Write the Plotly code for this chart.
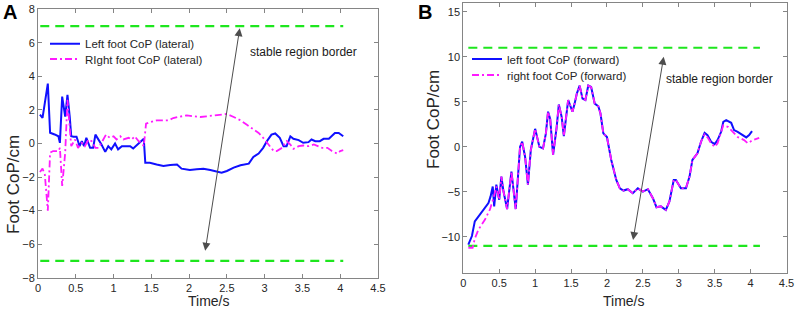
import plotly.graph_objects as go

# ---------------- Data ----------------
# Panel A (lateral)
a_left_t = [0.026, 0.06, 0.13, 0.16, 0.22, 0.27, 0.29, 0.32, 0.36, 0.39, 0.42, 0.44, 0.47, 0.51, 0.55, 0.58,
            0.61, 0.64, 0.69, 0.73, 0.76, 0.80, 0.84, 0.89, 0.93, 0.97, 1.02, 1.06, 1.11, 1.15, 1.22, 1.26,
            1.31, 1.35, 1.40, 1.42, 1.48, 1.57, 1.66, 1.75, 1.84, 1.90, 2.01, 2.10, 2.19, 2.28, 2.37, 2.43,
            2.50, 2.59, 2.68, 2.79, 2.85, 2.92, 2.98, 3.03, 3.09, 3.14, 3.20, 3.25, 3.29, 3.34, 3.38, 3.45,
            3.51, 3.58, 3.62, 3.67, 3.73, 3.78, 3.85, 3.89, 3.93, 3.98, 4.02, 4.04]
a_left_v = [1.72, 1.53, 3.57, 0.64, 0.54, 0.43, 0.04, 2.80, 1.60, 2.90, 1.60, 0.43, 0.40, 0.40, -0.15, 0.14,
            -0.15, 0.34, -0.26, -0.26, 0.53, 0.24, -0.06, -0.50, -0.16, -0.35, 0.00, -0.35, -0.16, -0.16, -0.16, -0.30,
            -0.10, 0.04, 0.28, -1.15, -1.15, -1.25, -1.34, -1.28, -1.25, -1.50, -1.58, -1.54, -1.50, -1.58, -1.70, -1.74,
            -1.64, -1.44, -1.30, -1.20, -0.80, -0.60, -0.26, 0.14, 0.53, 0.60, 0.34, -0.16, -0.16, 0.43, 0.28, 0.20,
            0.04, 0.08, 0.24, 0.14, 0.14, 0.28, 0.28, 0.43, 0.63, 0.63, 0.47, 0.43]

a_right_t = [0.026, 0.06, 0.09, 0.13, 0.16, 0.20, 0.27, 0.29, 0.32, 0.36, 0.39, 0.42, 0.44, 0.49, 0.53, 0.58,
             0.62, 0.67, 0.71, 0.76, 0.80, 0.84, 0.90, 0.95, 1.00, 1.04, 1.09, 1.13, 1.20, 1.24, 1.28, 1.33,
             1.37, 1.40, 1.43, 1.48, 1.57, 1.66, 1.73, 1.79, 1.88, 1.97, 2.06, 2.15, 2.23, 2.32, 2.41, 2.50,
             2.59, 2.68, 2.76, 2.85, 2.92, 2.98, 3.05, 3.12, 3.16, 3.23, 3.29, 3.34, 3.38, 3.45, 3.51, 3.58,
             3.65, 3.71, 3.76, 3.83, 3.89, 3.96, 4.00, 4.04]
a_right_v = [-1.70, -1.50, -1.84, -4.00, -0.55, -0.45, -0.45, -0.26, -2.53, -0.55, 2.60, 1.00, -0.16, 0.24, -0.26, 0.04,
             -0.16, 0.24, 0.14, -0.26, -0.26, 0.04, 0.53, 0.34, 0.43, 0.24, 0.43, 0.24, 0.34, 0.24, 0.43, 0.14,
             0.04, -0.16, 1.18, 1.27, 1.38, 1.38, 1.38, 1.52, 1.62, 1.68, 1.62, 1.58, 1.62, 1.66, 1.72, 1.76,
             1.58, 1.38, 1.13, 0.83, 0.63, 0.34, -0.06, -0.45, -0.45, -0.26, 0.14, -0.06, -0.32, -0.16, -0.12, -0.16,
             -0.06, -0.16, -0.26, -0.26, -0.45, -0.60, -0.45, -0.40]

# Panel B (forward)
b_mid_t = [0.53, 0.56, 0.61, 0.67, 0.73, 0.79, 0.82, 0.86, 0.90, 0.94, 1.00, 1.06, 1.11, 1.15, 1.18, 1.21,
           1.25, 1.30, 1.33, 1.37, 1.40, 1.46, 1.52, 1.55, 1.58, 1.62, 1.66, 1.70, 1.74, 1.78, 1.83, 1.88,
           1.91, 1.95, 2.00, 2.06, 2.13, 2.18, 2.23, 2.29, 2.36, 2.43, 2.50, 2.57, 2.64, 2.69, 2.75, 2.82,
           2.87, 2.93, 2.96, 3.03, 3.10, 3.15, 3.19, 3.26, 3.31]
b_mid_v = [-3.30, -4.96, -6.90, -2.75, -6.90, 0.00, 0.57, -1.10, -4.20, -0.35, 2.00, 0.00, -0.17, 1.50, 3.90, 3.10,
           -0.90, 2.20, 4.70, 3.30, 1.20, 5.20, 3.90, 4.80, 5.90, 6.80, 5.35, 5.20, 6.80, 6.64, 4.80, 4.50,
           3.70, 1.50, 1.10, -1.45, -3.67, -4.60, -4.85, -4.70, -5.14, -4.60, -4.96, -4.70, -5.70, -6.70, -6.60, -7.00,
           -6.06, -3.67, -3.67, -4.60, -4.60, -3.30, -1.45, -0.72, 0.57]

b_left_start_t = [0.07, 0.12, 0.16, 0.25, 0.35, 0.38, 0.41, 0.43, 0.46, 0.50]
b_left_start_v = [-10.84, -9.90, -8.27, -7.35, -6.24, -5.50, -4.40, -6.60, -4.20, -5.87]
b_left_end_t = [3.36, 3.40, 3.45, 3.50, 3.54, 3.59, 3.62, 3.66, 3.73, 3.77, 3.82, 3.89, 3.94, 3.98, 4.02]
b_left_end_v = [1.56, 1.30, 0.57, 0.30, 0.75, 1.67, 2.78, 2.96, 2.67, 1.86, 1.67, 1.30, 1.05, 1.30, 1.75]

b_right_start_t = [0.07, 0.13, 0.16, 0.21, 0.30, 0.37, 0.42, 0.46, 0.50]
b_right_start_v = [-11.20, -11.20, -10.20, -9.20, -8.10, -6.97, -5.70, -4.40, -5.87]
b_right_end_t = [3.36, 3.40, 3.45, 3.50, 3.54, 3.62, 3.69, 3.75, 3.82, 3.91, 3.96, 4.03, 4.12]
b_right_end_v = [1.38, 1.05, 0.40, 0.00, 0.40, 2.40, 2.20, 1.67, 1.10, 0.75, 0.40, 0.75, 1.00]

b_left_t = b_left_start_t + b_mid_t + b_left_end_t
b_left_v = b_left_start_v + b_mid_v + b_left_end_v
b_right_t = b_right_start_t + b_mid_t + b_right_end_t
b_right_v = b_right_start_v + b_mid_v + b_right_end_v

# stable region borders
a_border = 7
a_border_t = [0.03, 4.04]
b_border = 11
b_border_t = [0.07, 4.13]

x_ticks = [0, 0.5, 1, 1.5, 2, 2.5, 3, 3.5, 4, 4.5]
x_tick_text = ["0", "0.5", "1", "1.5", "2", "2.5", "3", "3.5", "4", "4.5"]
a_y_ticks = [-8, -6, -4, -2, 0, 2, 4, 6, 8]
b_y_ticks = [-10, -5, 0, 5, 10, 15]

# ---------------- Styles ----------------
W, H = 796, 313
FONT = "Liberation Sans, Arial, sans-serif"
BLUE = "#1010ff"
MAGENTA = "#ff1aff"
GREEN = "#1ee61e"
AXC = "#858585"
TXT = "#262626"


def px(x):
    return x / W


def py(y):
    return 1 - y / H


fig = go.Figure()

# Panel A
fig.add_trace(go.Scatter(x=a_border_t, y=[a_border] * 2, mode="lines", xaxis="x", yaxis="y",
                         line=dict(color=GREEN, width=2.2, dash="9px,6px"), showlegend=False, hoverinfo="skip"))
fig.add_trace(go.Scatter(x=a_border_t, y=[-a_border] * 2, mode="lines", xaxis="x", yaxis="y",
                         line=dict(color=GREEN, width=2.2, dash="9px,6px"), showlegend=False, hoverinfo="skip"))
fig.add_trace(go.Scatter(x=a_left_t, y=a_left_v, mode="lines", xaxis="x", yaxis="y",
                         name="Left foot CoP (lateral)", legend="legend",
                         line=dict(color=BLUE, width=2)))
fig.add_trace(go.Scatter(x=a_right_t, y=a_right_v, mode="lines", xaxis="x", yaxis="y",
                         name="RIght foot CoP (lateral)", legend="legend2",
                         line=dict(color=MAGENTA, width=1.8, dash="7px,3px,2px,3px")))

# Panel B
fig.add_trace(go.Scatter(x=b_border_t, y=[b_border] * 2, mode="lines", xaxis="x2", yaxis="y2",
                         line=dict(color=GREEN, width=2.2, dash="9px,6px"), showlegend=False, hoverinfo="skip"))
fig.add_trace(go.Scatter(x=b_border_t, y=[-b_border] * 2, mode="lines", xaxis="x2", yaxis="y2",
                         line=dict(color=GREEN, width=2.2, dash="9px,6px"), showlegend=False, hoverinfo="skip"))
fig.add_trace(go.Scatter(x=b_left_t, y=b_left_v, mode="lines", xaxis="x2", yaxis="y2",
                         name="left foot CoP (forward)", legend="legend3",
                         line=dict(color=BLUE, width=2)))
fig.add_trace(go.Scatter(x=b_right_t, y=b_right_v, mode="lines", xaxis="x2", yaxis="y2",
                         name="right foot CoP (forward)", legend="legend4",
                         line=dict(color=MAGENTA, width=1.8, dash="7px,3px,2px,3px")))

axis_common = dict(showline=True, linecolor=AXC, linewidth=1, mirror="ticks", ticks="inside",
                   ticklen=4, tickcolor=AXC, showgrid=False, zeroline=False,
                   tickfont=dict(family=FONT, size=11, color=TXT), automargin=False)

fig.update_layout(
    width=W, height=H,
    margin=dict(l=0, r=0, t=0, b=0),
    paper_bgcolor="white", plot_bgcolor="white",
    font=dict(family=FONT, color=TXT),
    xaxis=dict(domain=[px(38), px(378)], range=[0, 4.5], anchor="y",
               tickvals=x_ticks, ticktext=x_tick_text, **axis_common),
    yaxis=dict(domain=[py(277.7), py(9.3)], range=[-8, 8], anchor="x",
               tickvals=a_y_ticks, **axis_common),
    xaxis2=dict(domain=[px(463.3), px(786.5)], range=[0, 4.5], anchor="y2",
                tickvals=x_ticks, ticktext=x_tick_text, **axis_common),
    yaxis2=dict(domain=[py(273), py(2.7)], range=[-14, 16], anchor="x2",
                tickvals=b_y_ticks, **axis_common),
)

leg_common = dict(bgcolor="rgba(0,0,0,0)", borderwidth=0, font=dict(family=FONT, size=11.5, color=TXT),
                  xanchor="left", yanchor="middle", itemwidth=30)
fig.update_layout(
    legend=dict(x=px(45), y=py(43.7), **leg_common),
    legend2=dict(x=px(45), y=py(59), **leg_common),
    legend3=dict(x=px(467), y=py(59), **leg_common),
    legend4=dict(x=px(467), y=py(75), **leg_common),
)

annotations = [
    # double arrows
    dict(x=2.67, y=6.87, ax=2.21, ay=-6.48, xref="x", yref="y", axref="x", ayref="y",
         showarrow=True, arrowhead=2, startarrowhead=2, arrowside="end+start", arrowsize=1.6,
         startarrowsize=1.6, arrowwidth=1, arrowcolor="#4d4d4d", text="", standoff=0, startstandoff=0),
    dict(x=2.79, y=10.0, ax=2.36, ay=-10.5, xref="x2", yref="y2", axref="x2", ayref="y2",
         showarrow=True, arrowhead=2, startarrowhead=2, arrowside="end+start", arrowsize=1.6,
         startarrowsize=1.6, arrowwidth=1, arrowcolor="#4d4d4d", text="", standoff=0, startstandoff=0),
    dict(x=2.78, y=5.48, xref="x", yref="y", text="stable region border", showarrow=False,
         xanchor="left", yanchor="middle", font=dict(family=FONT, size=12, color="#1a1a1a")),
    dict(x=2.80, y=7.49, xref="x2", yref="y2", text="stable region border", showarrow=False,
         xanchor="left", yanchor="middle", font=dict(family=FONT, size=12, color="#1a1a1a")),
    # axis titles
    dict(x=px(208), y=py(300.5), xref="paper", yref="paper", text="Time/s", showarrow=False,
         xanchor="center", yanchor="middle", font=dict(family=FONT, size=14, color=TXT)),
    dict(x=px(623), y=py(300.5), xref="paper", yref="paper", text="Time/s", showarrow=False,
         xanchor="center", yanchor="middle", font=dict(family=FONT, size=14, color=TXT)),
    dict(x=px(13), y=py(185), xref="paper", yref="paper", text="Foot CoP/cm", showarrow=False,
         textangle=-90, xanchor="center", yanchor="middle", font=dict(family=FONT, size=17, color=TXT)),
    dict(x=px(433), y=py(120), xref="paper", yref="paper", text="Foot CoP/cm", showarrow=False,
         textangle=-90, xanchor="center", yanchor="middle", font=dict(family=FONT, size=17, color=TXT)),
    # panel letters
    dict(x=px(10), y=py(12), xref="paper", yref="paper", text="<b>A</b>", showarrow=False,
         xanchor="center", yanchor="middle", font=dict(family=FONT, size=20, color="black")),
    dict(x=px(425), y=py(12), xref="paper", yref="paper", text="<b>B</b>", showarrow=False,
         xanchor="center", yanchor="middle", font=dict(family=FONT, size=20, color="black")),
]
fig.update_layout(annotations=annotations)

fig.write_html("out.html", config={"displayModeBar": False},
               post_script="document.body.style.margin='0px';")
